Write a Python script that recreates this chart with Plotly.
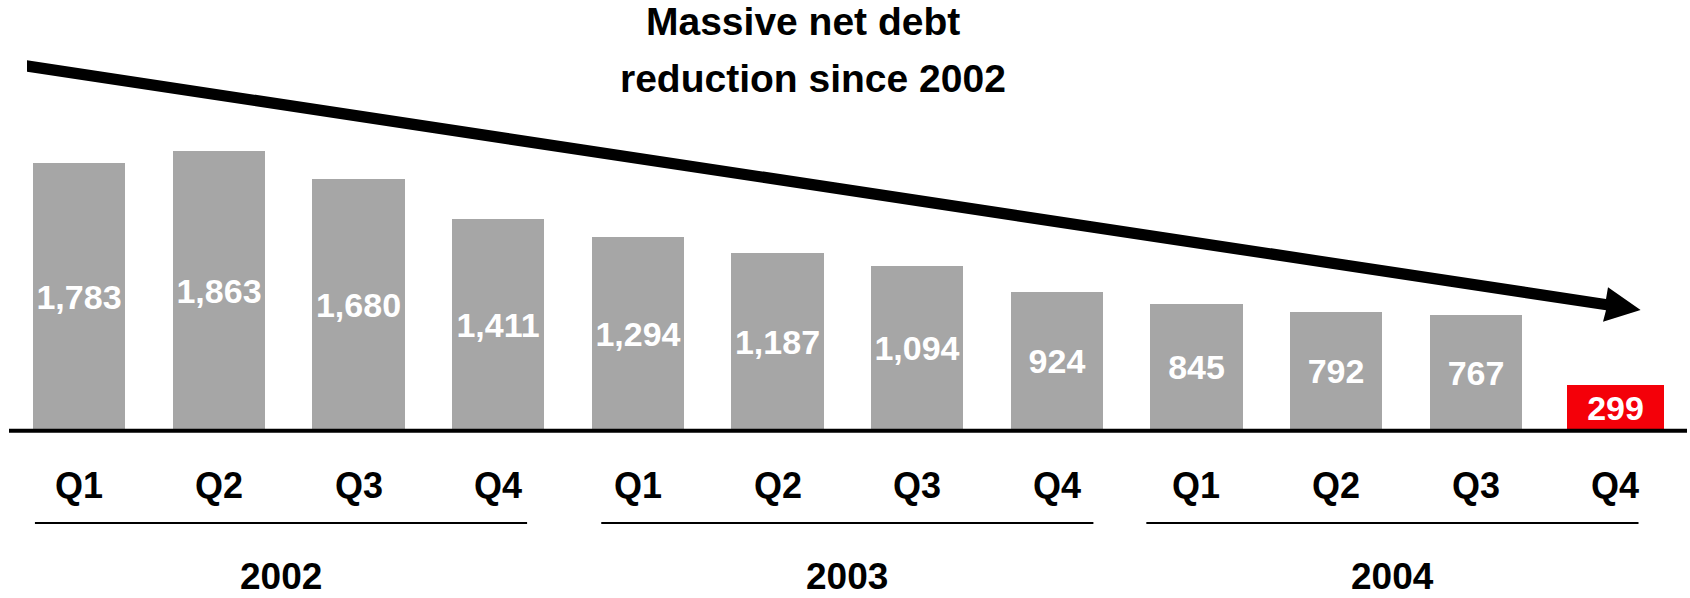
import plotly.graph_objects as go

# Net debt by quarter
quarters = ["Q1", "Q2", "Q3", "Q4", "Q1", "Q2", "Q3", "Q4", "Q1", "Q2", "Q3", "Q4"]
years = ["2002", "2003", "2004"]
net_debt = [1783, 1863, 1680, 1411, 1294, 1187, 1094, 924, 845, 792, 767, 299]
title_lines = ["Massive net debt", "reduction since 2002"]

W, H = 1690, 598
FONT = "Liberation Sans, Arial, Helvetica, sans-serif"
GREY = "#A6A6A6"
RED = "#F40009"

# pixel geometry of the category axis
X0_PX, STEP_PX = 79.2, 139.66      # centre of first bar, bar pitch
BASE_PX, PX_PER_UNIT = 430.0, 0.1495


def px_x(px):
    return px / W


def px_y(py):
    return 1 - py / H


n = len(net_debt)
xs = list(range(n))
colors = [GREY] * (n - 1) + [RED]
widths = [0.66] * (n - 1) + [0.69]

fig = go.Figure()
fig.add_trace(go.Bar(
    x=xs, y=net_debt,
    width=widths,
    marker=dict(color=colors, line=dict(width=0)),
    texttemplate="%{y:,}",
    textposition="inside",
    insidetextanchor="middle",
    constraintext="none",
    textfont=dict(family=FONT, size=34, color="white", weight="bold"),
    hoverinfo="skip",
))

x_lo = -X0_PX / STEP_PX
x_hi = (W - X0_PX) / STEP_PX
y_hi = BASE_PX / PX_PER_UNIT
y_lo = -(H - BASE_PX) / PX_PER_UNIT

shapes = []
# baseline
shapes.append(dict(type="line", xref="paper", yref="paper",
                   x0=px_x(9), x1=px_x(1687), y0=px_y(430.7), y1=px_y(430.7),
                   line=dict(color="black", width=4)))

# year brackets under each group of four quarters
year_shift = [-0.055, 0.0, -0.097]
half_span = 1.762
annotations = []
for g, yr in enumerate(years):
    centre = (4 * g + 4 * g + 3) / 2 + year_shift[g]
    shapes.append(dict(type="line", xref="x", yref="paper",
                       x0=centre - half_span, x1=centre + half_span,
                       y0=px_y(523), y1=px_y(523),
                       line=dict(color="black", width=1.8)))
    annotations.append(dict(x=centre, y=px_y(576.5), xref="x", yref="paper",
                            text=yr, showarrow=False, xanchor="center", yanchor="middle",
                            font=dict(family=FONT, size=37, color="black", weight="bold")))

# quarter labels
for i, q in enumerate(quarters):
    annotations.append(dict(x=i, y=px_y(485), xref="x", yref="paper",
                            text=q, showarrow=False, xanchor="center", yanchor="middle",
                            font=dict(family=FONT, size=36, color="black", weight="bold")))

# headline
for txt, cx, cy in zip(title_lines, [803, 813], [21.5, 78]):
    annotations.append(dict(x=px_x(cx), y=px_y(cy), xref="paper", yref="paper",
                            text=txt, showarrow=False, xanchor="center", yanchor="middle",
                            font=dict(family=FONT, size=39, color="black", weight="bold")))

# downward trend arrow (shaft + head as one filled polygon)
slope = 0.1511
sx0, top0, bot0 = 27, 60.3, 71.7
hx = 1606
arrow_pts = [
    (sx0, top0),
    (hx, top0 + slope * (hx - sx0)),
    (1608, 287.3),
    (1640.6, 310.0),
    (1603, 321.7),
    (hx, bot0 + slope * (hx - sx0)),
    (sx0, bot0),
]
path = "M " + " L ".join(f"{px_x(x):.5f},{px_y(y):.5f}" for x, y in arrow_pts) + " Z"
shapes.append(dict(type="path", xref="paper", yref="paper", path=path,
                   fillcolor="black", line=dict(width=0)))

fig.update_layout(
    width=W, height=H,
    margin=dict(l=0, r=0, t=0, b=0),
    paper_bgcolor="white", plot_bgcolor="white",
    showlegend=False,
    xaxis=dict(range=[x_lo, x_hi], visible=False, fixedrange=True),
    yaxis=dict(range=[y_lo, y_hi], visible=False, fixedrange=True),
    shapes=shapes,
    annotations=annotations,
    bargap=0,
)

fig.write_html("out.html")
